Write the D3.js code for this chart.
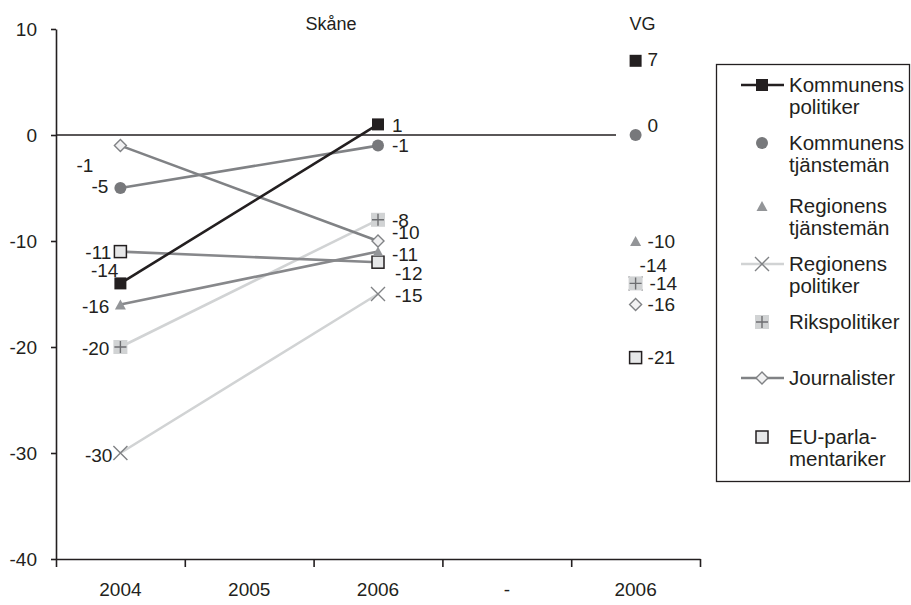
<!DOCTYPE html>
<html><head><meta charset="utf-8">
<script src="https://cdn.jsdelivr.net/npm/d3@7"></script>
<style>body{margin:0;background:#fff} text{font-family:"Liberation Sans",Arial,Helvetica,sans-serif;fill:#231f20}</style>
</head><body><svg id="c" width="911" height="605"></svg>
<script>
// ---- data ----
const categories = ["2004", "2005", "2006", "-", "2006"];
const seriesNames = ["Kommunens politiker", "Kommunens tjänstemän", "Regionens tjänstemän",
  "Regionens politiker", "Rikspolitiker", "Journalister", "EU-parlamentariker"];
const legendLabels = [["Kommunens", "politiker"], ["Kommunens", "tjänstemän"], ["Regionens", "tjänstemän"],
  ["Regionens", "politiker"], ["Rikspolitiker"], ["Journalister"], ["EU-parla-", "mentariker"]];
const skane2004 = [-14, -5, -16, -30, -20, -1, -11];
const skane2006 = [1, -1, -11, -15, -8, -10, -12];
const vg2006 = [7, 0, -10, -14, -14, -16, -21];
const yTicks = [10, 0, -10, -20, -30, -40];
const panelTitles = ["Skåne", "VG"];

// ---- style ----
const styles = [
  {marker: "square", fill: "#231f20", stroke: "none", line: "#231f20", legendLine: true},
  {marker: "circle", fill: "#77787b", stroke: "none", line: "#808285", legendLine: false},
  {marker: "triangle", fill: "#939598", stroke: "none", line: "#87888b", legendLine: false},
  {marker: "x", fill: "none", stroke: "#808285", line: "#d1d3d4", legendLine: true},
  {marker: "plus", fill: "#d1d3d4", stroke: "#6d6e71", line: "#d1d3d4", legendLine: false},
  {marker: "diamond", fill: "#f1f1f2", stroke: "#808285", line: "#808285", legendLine: true},
  {marker: "esquare", fill: "#e6e7e8", stroke: "#231f20", line: "#87888b", legendLine: false}
];
// label offsets [dx, dy, anchor] per series for 2004 / 2006 / VG
const lab2004 = [[-2, -13, "end"], [-12, -2, "end"], [-11, 2, "end"], [-8, 2, "end"], [-11, 1, "end"], [-27, 20, "end"], [-9, 1, "end"]];
const lab2006 = [[14, 1, "start"], [14, 0, "start"], [14, 3, "start"], [17, 1, "start"], [14, 1, "start"], [14, -9, "start"], [17, 11, "start"]];
const labVG = [[12, -1, "start"], [12, -10, "start"], [12, 0, "start"], [4, -18, "start"], [14, 0, "start"], [12, 0, "start"], [12, 0, "start"]];

const svg = d3.select("#c");
const FS = 19, LFS = 20.5, TFS = 18;
const x = d3.scaleBand().domain(d3.range(categories.length)).range([56, 700]);
const xb = d3.scaleLinear().domain([0, categories.length]).range([56, 700]);
const cx = i => x(i) + x.bandwidth() / 2;
const y = d3.scaleLinear().domain([-40, 10]).range([559, 29]);

// axes
const ya = svg.append("g").attr("transform", "translate(56,0)")
  .call(d3.axisLeft(y).tickValues(yTicks).tickSize(5).tickSizeOuter(0).tickPadding(14).tickFormat(d => String(d)));
ya.selectAll("text").style("font-size", FS + "px").attr("fill", "#231f20");
ya.selectAll("line,path").attr("stroke", "#231f20").attr("stroke-width", 1.6);

const xa = svg.append("g").attr("transform", "translate(0,559)")
  .call(d3.axisBottom(xb).tickValues(d3.range(categories.length + 1)).tickSize(8).tickSizeOuter(0).tickFormat(""));
xa.selectAll("line,path").attr("stroke", "#231f20").attr("stroke-width", 1.6);
const xl = svg.append("g").attr("transform", "translate(0,559)")
  .call(d3.axisBottom(x).tickSize(0).tickPadding(24).tickFormat(i => categories[i]));
xl.select("path").remove();
xl.selectAll("text").style("font-size", FS + "px").attr("fill", "#231f20");

// zero line
svg.append("line").attr("x1", 56).attr("x2", 616).attr("y1", y(0)).attr("y2", y(0))
  .attr("stroke", "#231f20").attr("stroke-width", 1.6);

// titles
svg.append("text").attr("x", (cx(0) + cx(4)) / 2 - 47).attr("y", 30).attr("text-anchor", "middle")
  .style("font-size", TFS + "px").text(panelTitles[0]);
svg.append("text").attr("x", cx(4) + 7).attr("y", 30).attr("text-anchor", "middle")
  .style("font-size", TFS + "px").text(panelTitles[1]);

function marker(g, s, px, py) {
  const t = s.marker;
  if (t === "square") g.append("rect").attr("x", px - 6).attr("y", py - 6).attr("width", 12).attr("height", 12).attr("fill", s.fill);
  else if (t === "circle") g.append("circle").attr("cx", px).attr("cy", py).attr("r", 6).attr("fill", s.fill);
  else if (t === "triangle") g.append("path").attr("d", `M${px - 5.5},${py + 5}L${px + 5.5},${py + 5}L${px},${py - 5}Z`).attr("fill", s.fill);
  else if (t === "x") g.append("path").attr("d", `M${px - 7},${py - 7}L${px + 7},${py + 7}M${px - 7},${py + 7}L${px + 7},${py - 7}`).attr("stroke", s.stroke).attr("stroke-width", 1.4).attr("fill", "none");
  else if (t === "plus") {
    g.append("rect").attr("x", px - 7).attr("y", py - 7).attr("width", 14).attr("height", 14).attr("fill", s.fill);
    g.append("path").attr("d", `M${px - 6},${py}L${px + 6},${py}M${px},${py - 6}L${px},${py + 6}`).attr("stroke", s.stroke).attr("stroke-width", 1.4);
  } else if (t === "diamond") g.append("path").attr("d", `M${px},${py - 6}L${px + 6},${py}L${px},${py + 6}L${px - 6},${py}Z`).attr("fill", s.fill).attr("stroke", s.stroke).attr("stroke-width", 1.4);
  else if (t === "esquare") g.append("rect").attr("x", px - 6).attr("y", py - 6).attr("width", 12).attr("height", 12).attr("fill", s.fill).attr("stroke", s.stroke).attr("stroke-width", 1.5);
}

// lines (draw light ones first, black last)
const order = [3, 4, 6, 2, 5, 1, 0];
order.forEach(i => {
  svg.append("line").attr("x1", cx(0)).attr("y1", y(skane2004[i])).attr("x2", cx(2)).attr("y2", y(skane2006[i]))
    .attr("stroke", styles[i].line).attr("stroke-width", 2.6);
});
order.forEach(i => {
  const g = svg.append("g");
  marker(g, styles[i], cx(0), y(skane2004[i]));
  marker(g, styles[i], cx(2), y(skane2006[i]));
  marker(g, styles[i], cx(4), y(vg2006[i]));
});
// data labels
function label(px, py, v, o) {
  svg.append("text").attr("x", px + o[0]).attr("y", py + o[1]).attr("dy", "0.35em")
    .attr("text-anchor", o[2]).style("font-size", FS + "px").text(String(v));
}
seriesNames.forEach((n, i) => {
  label(cx(0), y(skane2004[i]), skane2004[i], lab2004[i]);
  label(cx(2), y(skane2006[i]), skane2006[i], lab2006[i]);
  label(cx(4), y(vg2006[i]), vg2006[i], labVG[i]);
});

// legend
svg.append("rect").attr("x", 716.5).attr("y", 64.5).attr("width", 193).attr("height", 417)
  .attr("fill", "#fff").attr("stroke", "#231f20").attr("stroke-width", 1.3);
const legY = [85, 143, 206, 264, 322, 378, 437];
seriesNames.forEach((n, i) => {
  const g = svg.append("g");
  const s = styles[i], my = legY[i];
  if (s.legendLine) g.append("line").attr("x1", 741).attr("x2", 784).attr("y1", my).attr("y2", my).attr("stroke", s.line).attr("stroke-width", 2.6);
  marker(g, s, 762, my);
  legendLabels[i].forEach((t, k) => {
    g.append("text").attr("x", 789).attr("y", my + k * 22).attr("dy", "0.35em").style("font-size", LFS + "px").text(t);
  });
});
</script></body></html>
